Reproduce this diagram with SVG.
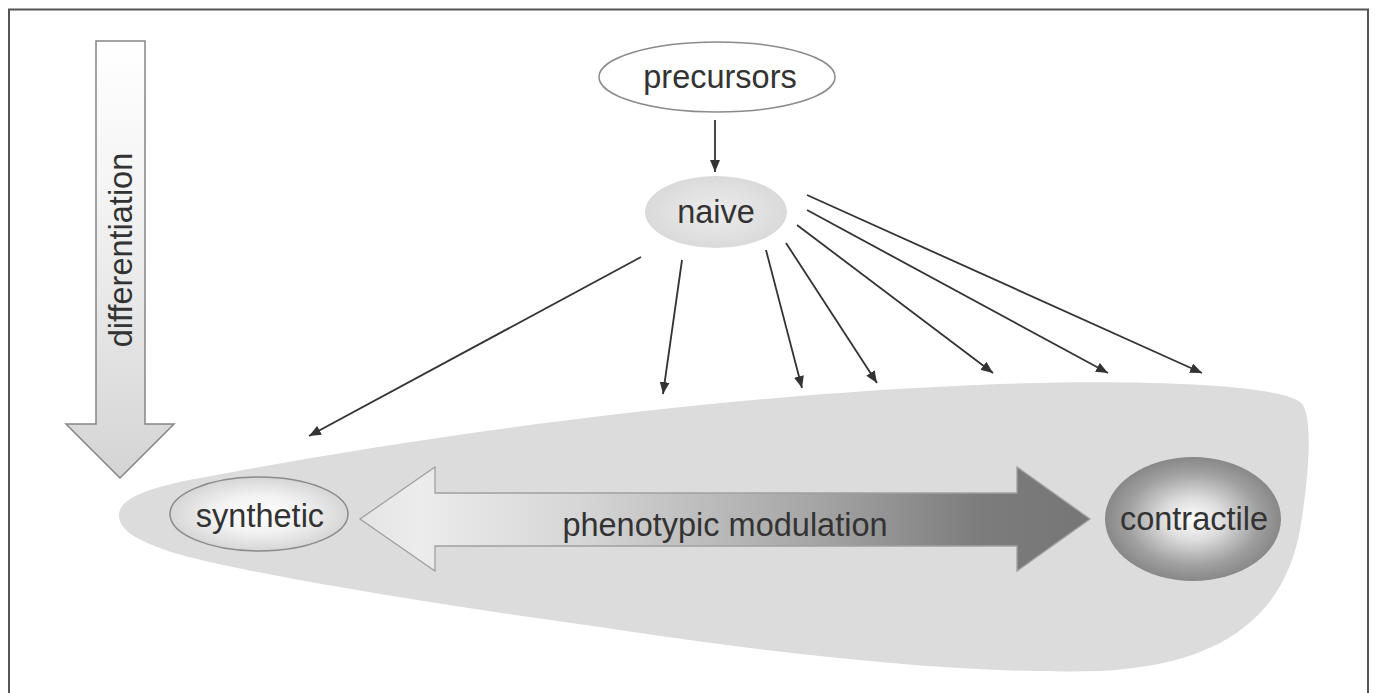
<svg xmlns="http://www.w3.org/2000/svg" width="1375" height="693" viewBox="0 0 1375 693">
<style>
  text { font-family: "Liberation Sans", Arial, sans-serif; font-size: 32.5px; fill: #333; }
  .conn { stroke: #333; stroke-width: 1.8; fill: none; marker-end: url(#ah); }
</style>
<defs>
  <marker id="ah" viewBox="0 0 12 10" refX="12" refY="5" markerWidth="12" markerHeight="10" markerUnits="userSpaceOnUse" orient="auto">
    <path d="M0,0 L12,5 L0,10 Z" fill="#333"/>
  </marker>
  <linearGradient id="gDiff" x1="0" y1="0" x2="0" y2="1">
    <stop offset="0" stop-color="#ffffff"/>
    <stop offset="0.35" stop-color="#f4f4f4"/>
    <stop offset="1" stop-color="#d4d4d4"/>
  </linearGradient>
  <linearGradient id="gPheno" x1="360" y1="0" x2="1090" y2="0" gradientUnits="userSpaceOnUse">
    <stop offset="0" stop-color="#e4e4e4"/>
    <stop offset="0.08" stop-color="#ececec"/>
    <stop offset="0.3" stop-color="#d6d6d6"/>
    <stop offset="0.6" stop-color="#a9a9a9"/>
    <stop offset="0.85" stop-color="#7c7c7c"/>
    <stop offset="1" stop-color="#767676"/>
  </linearGradient>
  <radialGradient id="gSyn" cx="0.5" cy="0.5" r="0.5">
    <stop offset="0" stop-color="#ffffff"/>
    <stop offset="0.5" stop-color="#f2f2f2"/>
    <stop offset="1" stop-color="#d6d6d6"/>
  </radialGradient>
  <radialGradient id="gCon" cx="0.5" cy="0.5" r="0.5">
    <stop offset="0" stop-color="#ffffff"/>
    <stop offset="0.35" stop-color="#dcdcdc"/>
    <stop offset="0.75" stop-color="#a0a0a0"/>
    <stop offset="1" stop-color="#888888"/>
  </radialGradient>
  <radialGradient id="gNaive" cx="0.5" cy="0.5" r="0.5">
    <stop offset="0" stop-color="#ededed"/>
    <stop offset="1" stop-color="#dadada"/>
  </radialGradient>
</defs>

<rect x="0" y="0" width="1375" height="693" fill="#ffffff"/>
<path d="M9,693 L9,9.5 L1368,9.5 L1368,693" fill="none" stroke="#555" stroke-width="2"/>

<g id="region">
  <path d="M119,515 C119,498 150,487 200,478 C400,440 700,395 1000,384 C1150,379 1290,385 1303,405 C1312,420 1310,470 1300,530 C1285,610 1230,665 1100,671 C950,675 750,650 600,627 C400,600 200,565 160,548 C130,537 119,527 119,515 Z" fill="#dcdcdc"/>
</g>

<g id="differentiation">
  <path d="M96,41 L145,41 L145,424 L174,424 L120,478 L66,424 L96,424 Z" fill="url(#gDiff)" stroke="#858585" stroke-width="1.5"/>
  <text transform="translate(132,250) rotate(-90)" text-anchor="middle">differentiation</text>
</g>

<g id="phenotypic-modulation">
  <path d="M360,519 L435,467 L435,493 L1017,493 L1017,467 L1090,519 L1017,571 L1017,546 L435,546 L435,571 Z" fill="url(#gPheno)" stroke="#a0a0a0" stroke-width="1.3"/>
  <text x="725" y="536" text-anchor="middle">phenotypic modulation</text>
</g>

<g id="precursors">
  <ellipse cx="717" cy="77" rx="118" ry="35" fill="#ffffff" stroke="#8a8a8a" stroke-width="1.5"/>
  <text x="720" y="88" text-anchor="middle">precursors</text>
</g>

<g id="naive">
  <ellipse cx="716" cy="212" rx="71" ry="36" fill="url(#gNaive)"/>
  <text x="716" y="223" text-anchor="middle">naive</text>
</g>

<g id="synthetic">
  <ellipse cx="259" cy="514" rx="89" ry="37" fill="url(#gSyn)" stroke="#8a8a8a" stroke-width="1.5"/>
  <text x="260" y="527" text-anchor="middle">synthetic</text>
</g>

<g id="contractile">
  <ellipse cx="1193" cy="519" rx="88" ry="62" fill="url(#gCon)"/>
  <text x="1194" y="530" text-anchor="middle">contractile</text>
</g>

<g id="connectors">
  <line class="conn" x1="715" y1="120" x2="715" y2="172"/>
  <line class="conn" x1="641" y1="257" x2="309" y2="436"/>
  <line class="conn" x1="682" y1="260" x2="663" y2="394"/>
  <line class="conn" x1="766" y1="250" x2="802" y2="388"/>
  <line class="conn" x1="786" y1="243" x2="877" y2="383"/>
  <line class="conn" x1="797" y1="225" x2="993" y2="373"/>
  <line class="conn" x1="807" y1="210" x2="1108" y2="373"/>
  <line class="conn" x1="807" y1="195" x2="1202" y2="373"/>
</g>
</svg>
